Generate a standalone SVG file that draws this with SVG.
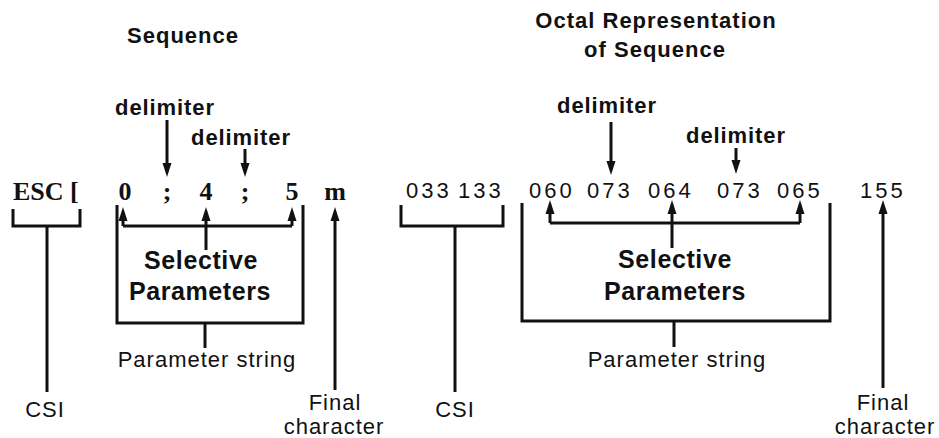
<svg xmlns="http://www.w3.org/2000/svg" width="939" height="438" viewBox="0 0 939 438">
<defs>
<style>
.t{font-family:"Liberation Sans",Arial,Helvetica,sans-serif;fill:#111}
.b{font-weight:bold}
.h{font-size:22px;letter-spacing:1px}
.d{font-size:22px;letter-spacing:0.9px}
.sp{font-size:25px;letter-spacing:0.6px}
.r{font-size:22px;letter-spacing:1px}
.n{font-size:22px;letter-spacing:3px}
.s{font-family:"Liberation Serif","Times New Roman",serif;font-weight:bold;font-size:26px;fill:#111}
.m{text-anchor:middle}
.ln{fill:none;stroke:#111;stroke-width:3;stroke-linecap:butt;stroke-linejoin:miter}
.ar{fill:none;stroke:#111;stroke-width:3;marker-end:url(#ah)}
</style>
<marker id="ah" markerUnits="userSpaceOnUse" markerWidth="15" markerHeight="10" refX="4" refY="5" orient="auto">
<path d="M0,0.5 L14,5 L0,9.5 z" fill="#111"/>
</marker>
</defs>
<rect width="939" height="438" fill="#fff"/>

<g id="titles">
<text class="t b h m" x="183" y="43">Sequence</text>
<text class="t b h m" x="656" y="28">Octal Representation</text>
<text class="t b h m" x="655" y="57">of Sequence</text>
</g>

<g id="delimiters">
<text class="t b d m" x="165" y="115">delimiter</text>
<text class="t b d m" x="241" y="145">delimiter</text>
<text class="t b d m" x="607" y="113">delimiter</text>
<text class="t b d m" x="736" y="143">delimiter</text>
</g>

<g id="sequence">
<text class="s" x="13" y="200">ESC [</text>
<text class="s m" x="125" y="200">0</text>
<text class="s m" x="167" y="200">;</text>
<text class="s m" x="206" y="200">4</text>
<text class="s m" x="245" y="200">;</text>
<text class="s m" x="292" y="200">5</text>
<text class="s m" x="335" y="200">m</text>
</g>

<g id="octal">
<text class="t n" x="406" y="198">033</text>
<text class="t n" x="458" y="198">133</text>
<text class="t n" x="529" y="198">060</text>
<text class="t n" x="587" y="198">073</text>
<text class="t n" x="648" y="198">064</text>
<text class="t n" x="717" y="198">073</text>
<text class="t n" x="777" y="198">065</text>
<text class="t n" x="860" y="198">155</text>
</g>

<g id="selective-left">
<text class="t b sp m" x="201" y="269">Selective</text>
<text class="t b sp m" x="200" y="300">Parameters</text>
</g>
<g id="selective-right">
<text class="t b sp m" x="675" y="268">Selective</text>
<text class="t b sp m" x="675" y="300">Parameters</text>
</g>

<g id="labels-left">
<text class="t r m" x="207" y="367">Parameter string</text>
<text class="t r m" x="45" y="417">CSI</text>
<text class="t r m" x="335" y="410">Final</text>
<text class="t r m" x="334" y="434">character</text>
</g>
<g id="labels-right">
<text class="t r m" x="677" y="367">Parameter string</text>
<text class="t r m" x="455" y="417">CSI</text>
<text class="t r m" x="883" y="410">Final</text>
<text class="t r m" x="885" y="434">character</text>
</g>

<g id="connectors">
<path class="ar" d="M167,120 V167"/>
<path class="ar" d="M245,149 V167"/>
<path class="ar" d="M611,122 V165"/>
<path class="ar" d="M736,148 V164"/>

<path class="ln" d="M13,209 V226 H80 V209"/>
<path class="ln" d="M47,226 V392"/>
<path class="ln" d="M117,205 V323 H303 V205"/>
<path class="ln" d="M205,323 V348"/>
<path class="ln" d="M123,226 H292"/>
<path class="ar" d="M123,226 V217"/>
<path class="ar" d="M292,226 V217"/>
<path class="ar" d="M206,250 V217"/>
<path class="ar" d="M335,390 V217"/>

<path class="ln" d="M401,205 V226 H503 V205"/>
<path class="ln" d="M455,226 V392"/>
<path class="ln" d="M522,203 V321 H830 V203"/>
<path class="ln" d="M674,321 V347"/>
<path class="ln" d="M550,223 H800"/>
<path class="ar" d="M550,223 V210"/>
<path class="ar" d="M800,223 V210"/>
<path class="ar" d="M672,248 V210"/>
<path class="ar" d="M883,388 V210"/>
</g>
</svg>
